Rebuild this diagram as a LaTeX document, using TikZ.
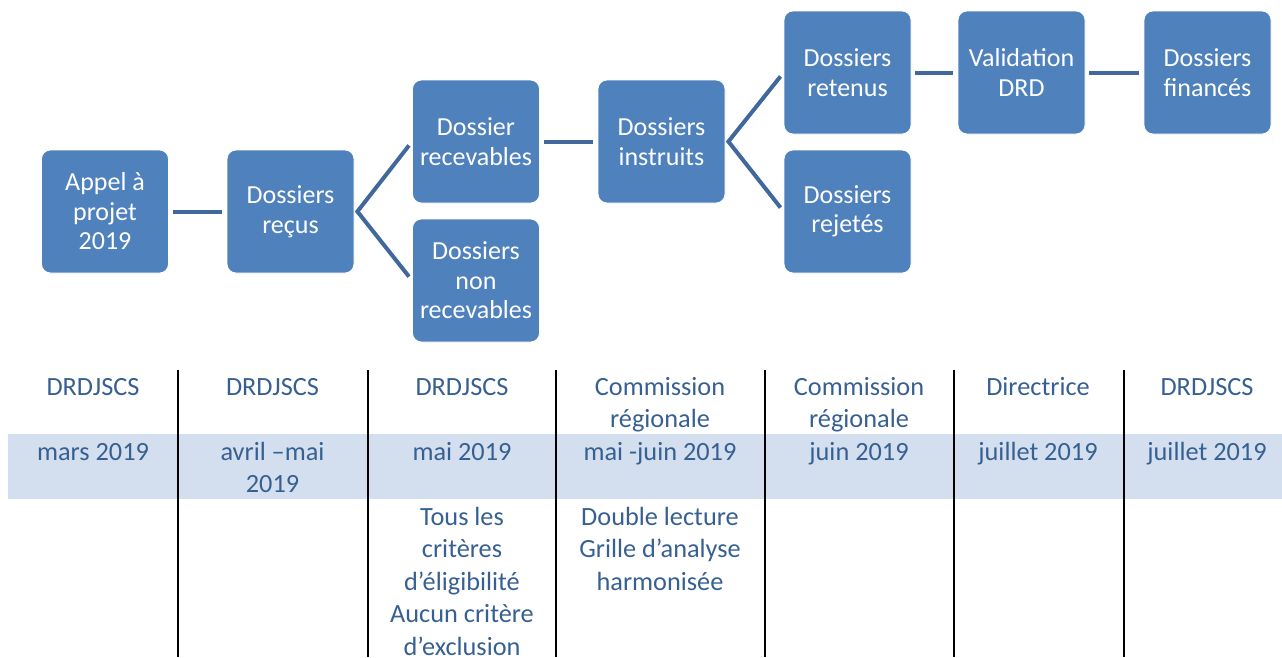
\documentclass[tikz,border=0pt]{standalone}
\usepackage{fontspec}
\setmainfont{Carlito}
\definecolor{boxblue}{HTML}{4F81BD}
\definecolor{linkblue}{RGB}{64,104,156}
\definecolor{tblue}{RGB}{55,96,146}
\definecolor{band}{HTML}{D3DFEE}
\begin{document}
\begin{tikzpicture}[x=1pt,y=-1pt,
  box/.style={draw=white, line width=0.8pt, fill=boxblue, rounded corners=9pt,
    minimum width=127pt, minimum height=123pt, inner sep=0pt, align=center,
    text=white, font=\fontsize{26}{29.5}\selectfont},
  link/.style={draw=linkblue, line width=4pt, shorten >=5pt, shorten <=4pt},
  fork/.style={draw=linkblue, line width=4pt, line join=miter, shorten >=5pt, shorten <=5pt},
  cell/.style={anchor=base, align=center, text=tblue, inner sep=0pt,
    font=\fontsize{26.3}{32.5}\selectfont},
  sep/.style={draw=black, line width=2.4pt}]
\useasboundingbox (0,0) rectangle (1282,657);
% band
\fill[band] (8,434) rectangle (1282,499);
% boxes
\node[box] (appel) at (105,211.5) {Appel à\\projet\\2019};
\node[box] (recus) at (290.5,211.5) {Dossiers\\reçus};
\node[box] (recev) at (476,141.5) {Dossier\\recevables};
\node[box] (nonrec) at (476,280.5) {Dossiers\\non\\recevables};
\node[box] (instr) at (661.5,141.5) {Dossiers\\instruits};
\node[box] (reten) at (847.5,72.5) {Dossiers\\retenus};
\node[box] (rejet) at (847.5,211.5) {Dossiers\\rejetés};
\node[box] (valid) at (1021.5,72.5) {Validation\\DRD};
\node[box] (finan) at (1207.5,72.5) {Dossiers\\financés};
% connectors
\draw[link] (appel.east) -- (recus.west);
\draw[fork] (recev.west) -- ([xshift=3pt]recus.east) -- (nonrec.west);
\draw[link] (recev.east) -- (instr.west);
\draw[fork] (reten.west) -- ([xshift=3pt]instr.east) -- (rejet.west);
\draw[link] (reten.east) -- (valid.west);
\draw[link] (valid.east) -- (finan.west);
% column separators
\coordinate (s1t) at (178,370); \coordinate (s1b) at (178,657);
\coordinate (s2t) at (368,370); \coordinate (s2b) at (368,657);
\coordinate (s3t) at (556,370); \coordinate (s3b) at (556,657);
\coordinate (s4t) at (765,370); \coordinate (s4b) at (765,657);
\coordinate (s5t) at (954,370); \coordinate (s5b) at (954,657);
\coordinate (s6t) at (1124,370); \coordinate (s6b) at (1124,657);
\foreach \i in {1,...,6} {\draw[sep] (s\i t) -- (s\i b);}
% header row (base anchor = last line's baseline)
\node[cell] (h1) at (93,395) {DRDJSCS};
\node[cell] (h2) at (272.5,395) {DRDJSCS};
\node[cell] (h3) at (462,395) {DRDJSCS};
\node[cell] (h4) at (660,427.5) {Commission\\régionale};
\node[cell] (h5) at (859,427.5) {Commission\\régionale};
\node[cell] (h6) at (1038,395) {Directrice};
\node[cell] (h7) at (1207,395) {DRDJSCS};
% date row
\node[cell] (d1) at (93,460) {mars 2019};
\node[cell] (d2) at (272.5,492.5) {avril –mai\\2019};
\node[cell] (d3) at (462,460) {mai 2019};
\node[cell] (d4) at (660,460) {mai -juin 2019};
\node[cell] (d5) at (859,460) {juin 2019};
\node[cell] (d6) at (1038,460) {juillet 2019};
\node[cell] (d7) at (1207,460) {juillet 2019};
% notes row
\node[cell] (n3) at (462,655) {Tous les\\critères\\d’éligibilité\\Aucun critère\\d’exclusion};
\node[cell] (n4) at (660,590) {Double lecture\\Grille d’analyse\\harmonisée};
\end{tikzpicture}
\end{document}
